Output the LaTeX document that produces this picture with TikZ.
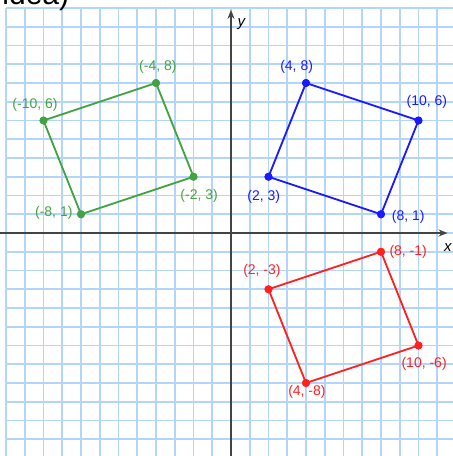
\documentclass[tikz,border=0pt]{standalone}
\usepackage{fontspec}
\setmainfont{Liberation Sans}
\usetikzlibrary{arrows.meta}
\definecolor{gridblue}{HTML}{B3D5FA}
\definecolor{ggreen}{HTML}{43A343}
\definecolor{bblue}{HTML}{1A1AFF}
\definecolor{rred}{HTML}{FF2020}
\definecolor{axisgray}{HTML}{444444}
\tikzset{
  gridline/.style={draw=gridblue, line width=1.8pt},
  axisline/.style={draw=axisgray, line width=1.8pt, -{Stealth[length=9pt,width=7pt]}},
  dotg/.style={circle, fill=ggreen, inner sep=0pt, minimum size=8pt},
  dotb/.style={circle, fill=bblue, inner sep=0pt, minimum size=8pt},
  dotr/.style={circle, fill=rred, inner sep=0pt, minimum size=8pt},
  edgeg/.style={draw=ggreen, line width=1.8pt},
  edgeb/.style={draw=bblue, line width=1.8pt},
  edger/.style={draw=rred, line width=1.8pt},
  lab/.style={inner sep=0pt, font=\fontsize{14pt}{14pt}\selectfont},
  labg/.style={lab, text=ggreen},
  labb/.style={lab, text=bblue},
  labr/.style={lab, text=rred},
}
\begin{document}
\begin{tikzpicture}[x=18.75pt, y=18.75pt]
\useasboundingbox (-12.32,-11.893) rectangle (11.84,12.427);
\fill[white] (-12.32,-11.893) rectangle (11.84,12.427);
\begin{scope}
\clip (-12.32,-11.893) rectangle (11.84,12.427);
\draw[gridline, step=1] (-12,-11.95) grid (11.9,12);
\node[anchor=base west, inner sep=0pt, font=\fontsize{30pt}{30pt}\selectfont] (title) at (-12.2,12.2) {idea)};
\end{scope}
% axes
\coordinate (xs) at (-12.32,0);
\coordinate (xe) at (11.55,0);
\coordinate (ys) at (0,-11.893);
\coordinate (ye) at (0,11.9);
\draw[axisline] (xs) -- (xe);
\draw[axisline] (ys) -- (ye);
\node[lab, font=\itshape\fontsize{15pt}{15pt}\selectfont] (xl) at (11.57,-0.75) {x};
\node[lab, font=\itshape\fontsize{15pt}{15pt}\selectfont] (yl) at (0.55,11.15) {y};
% green
\node[dotg] (g1) at (-10,6) {};
\node[dotg] (g2) at (-4,8) {};
\node[dotg] (g3) at (-2,3) {};
\node[dotg] (g4) at (-8,1) {};
\draw[edgeg] (g1.center) -- (g2.center) -- (g3.center) -- (g4.center) -- cycle;
\foreach \n in {g1,g2,g3,g4} \node[dotg] at (\n) {};
\node[labg] (lg1) at (-10.45,6.85) {(-10, 6)};
\node[labg] (lg2) at (-3.9,8.85) {(-4, 8)};
\node[labg] (lg3) at (-1.7,1.98) {(-2, 3)};
\node[labg] (lg4) at (-9.45,1.07) {(-8, 1)};
% blue
\node[dotb] (b1) at (4,8) {};
\node[dotb] (b2) at (10,6) {};
\node[dotb] (b3) at (8,1) {};
\node[dotb] (b4) at (2,3) {};
\draw[edgeb] (b1.center) -- (b2.center) -- (b3.center) -- (b4.center) -- cycle;
\foreach \n in {b1,b2,b3,b4} \node[dotb] at (\n) {};
\node[labb] (lb1) at (3.5,8.85) {(4, 8)};
\node[labb] (lb2) at (10.45,7.0) {(10, 6)};
\node[labb] (lb3) at (9.45,0.85) {(8, 1)};
\node[labb] (lb4) at (1.75,1.93) {(2, 3)};
% red
\node[dotr] (r1) at (8,-1) {};
\node[dotr] (r2) at (10,-6) {};
\node[dotr] (r3) at (4,-8) {};
\node[dotr] (r4) at (2,-3) {};
\draw[edger] (r1.center) -- (r2.center) -- (r3.center) -- (r4.center) -- cycle;
\foreach \n in {r1,r2,r3,r4} \node[dotr] at (\n) {};
\node[labr] (lr1) at (9.45,-1.0) {(8, -1)};
\node[labr] (lr2) at (10.3,-7.0) {(10, -6)};
\node[labr] (lr3) at (4.05,-8.45) {(4, -8)};
\node[labr] (lr4) at (1.65,-2.0) {(2, -3)};
\end{tikzpicture}
\end{document}
